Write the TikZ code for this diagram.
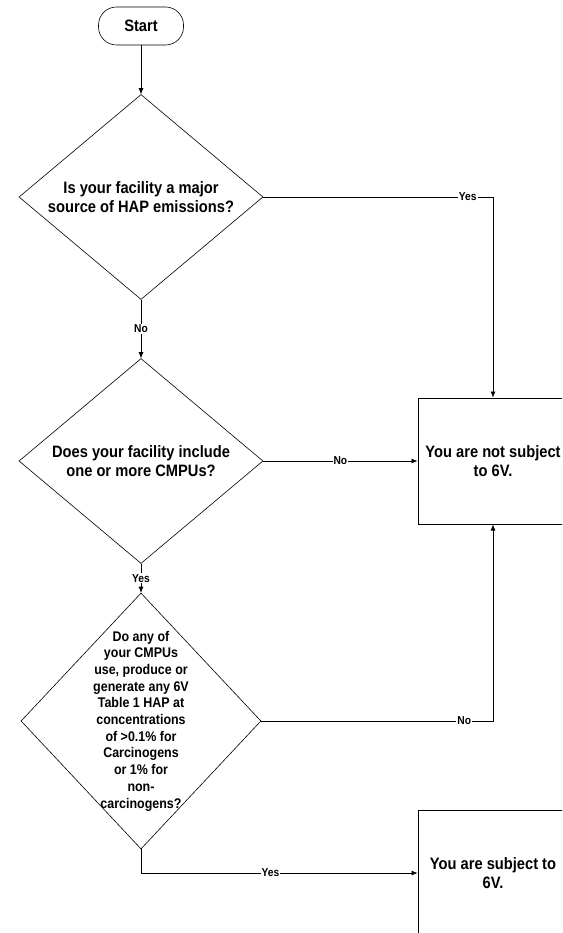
\documentclass[tikz,border=0pt]{standalone}
\usepackage{fontspec}
\setmainfont{Liberation Sans}[FakeStretch=0.89]
\usetikzlibrary{shapes.geometric,arrows.meta}

\begin{document}
\begin{tikzpicture}[x=1pt, y=-1pt,
  startbox/.style={draw, line width=0.6pt, rounded corners=18pt, minimum width=85pt, minimum height=38pt, font=\bfseries\fontsize{16.5}{19}\selectfont},
  decision/.style={diamond, draw, line width=0.6pt, inner sep=0pt},
  qtext/.style={align=center, inner sep=0pt, font=\bfseries\fontsize{16.5}{18.6}\selectfont},
  outcome/.style={draw, line width=1pt, minimum width=150pt, minimum height=126pt, align=center, font=\bfseries\fontsize{16.5}{19.3}\selectfont},
  lbl/.style={fill=white, inner sep=1pt, font=\bfseries\fontsize{11.5}{13}\selectfont},
  arrow/.style={-{Latex[length=6pt,width=5pt]}, line width=0.6pt}]
\clip (0,0) rectangle (562,933);
% start and questions
\node[startbox] (start) at (141,26) {Start};
\node[decision, minimum width=244pt, minimum height=205pt] (q1) at (141,197) {};
\node[qtext] (q1txt) at (q1) {Is your facility a major\\source of HAP emissions?};
\node[decision, minimum width=244pt, minimum height=205pt] (q2) at (141,461) {};
\node[qtext] (q2txt) at (q2) {Does your facility include\\one or more CMPUs?};
\node[decision, minimum width=240pt, minimum height=256pt] (q3) at (141,721) {};
\node[qtext, font=\bfseries\fontsize{14}{16.7}\selectfont] (q3txt) at (q3) {Do any of\\your CMPUs\\use, produce or\\generate any 6V\\Table 1 HAP at\\concentrations\\of >0.1\% for\\Carcinogens\\or 1\% for\\non-\\carcinogens?};
% outcomes
\node[outcome] (notsub) at (493,461) {You are not subject\\to 6V.};
\node[outcome] (sub) at (493,873) {You are subject to\\6V.};
% connectors
\draw[arrow] (start) -- (q1);
\draw[arrow] (q1) -- node[lbl]{No} (q2);
\draw[arrow] (q2) -- node[lbl]{Yes} (q3);
\draw[arrow] (q1.east) -| node[lbl, pos=0.445]{Yes} (notsub.north);
\draw[arrow] (q2.east) -- node[lbl]{No} (notsub.west);
\draw[arrow] (q3.east) -| node[lbl, pos=0.438]{No} (notsub.south);
\draw[arrow] (q3.south) |- node[lbl, pos=0.734]{Yes} (sub.west);
\end{tikzpicture}
\end{document}
